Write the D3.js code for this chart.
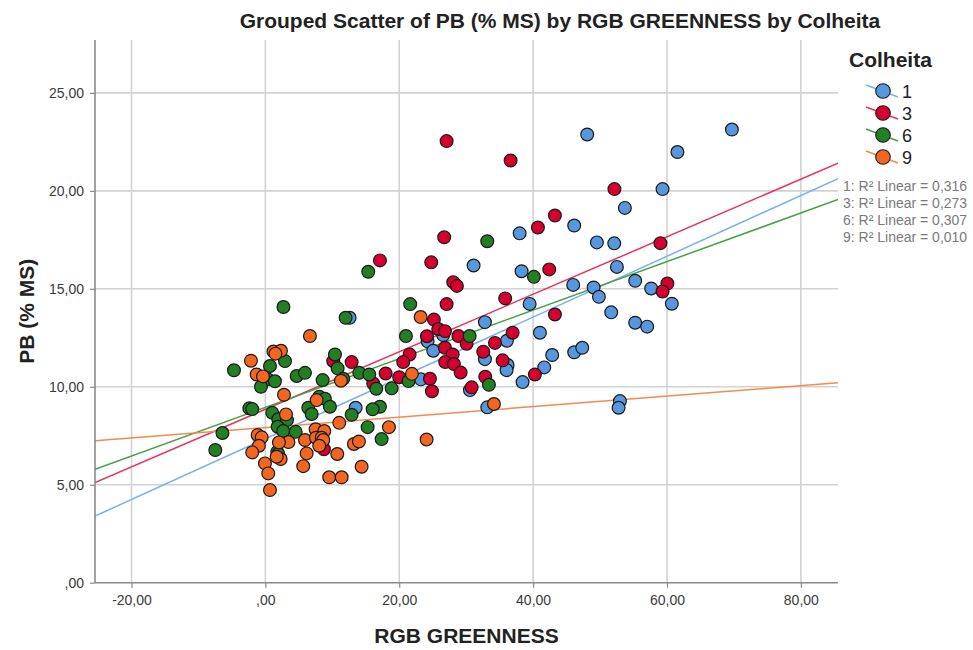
<!DOCTYPE html>
<html>
<head>
<meta charset="utf-8">
<script src="https://cdn.jsdelivr.net/npm/d3@7/dist/d3.min.js"></script>
<style>
  body { margin: 0; background: #ffffff; }
  svg { display: block; font-family: "Liberation Sans", Arial, sans-serif; }
</style>
</head>
<body>
<svg id="chart" width="973" height="650"></svg>
<script>
// Harvest groups (Colheita) and their colours
const groups = ["1", "3", "6", "9"];
const pointColors = ["#5797dd", "#d6002f", "#237f23", "#f4661f"];
const fitColors = ["#78b0ee", "#e6335b", "#45a045", "#f7894d"];

// Linear fit per group: PB = intercept + slope * greenness, with its R²
const fitIntercept = [7.35, 8.85, 8.95, 7.92];
const fitSlope = [0.1552, 0.1468, 0.1240, 0.0267];
const rSquaredLabels = ["0,316", "0,273", "0,307", "0,010"];

// Axis ticks
const xTicks = [-20, 0, 20, 40, 60, 80];
const xTickLabels = ["-20,00", ",00", "20,00", "40,00", "60,00", "80,00"];
const yTicks = [0, 5, 10, 15, 20, 25];
const yTickLabels = [",00", "5,00", "10,00", "15,00", "20,00", "25,00"];
const xDomain = [-25.45, 85.55];
const yDomain = [0, 27.7];

// Observations: [RGB GREENNESS, PB (% MS)]
const colheita1 = [
  [69.70,23.13],[48.08,22.88],[61.56,21.98],[59.34,20.09],[53.71,19.13],[46.14,18.23],
  [37.99,17.83],[49.53,17.37],[52.12,17.32],[31.11,16.19],[38.28,15.90],[52.52,16.12],
  [45.99,15.20],[49.04,15.07],[55.25,15.41],[49.83,14.59],[57.64,15.02],[60.73,14.24],
  [39.48,14.23],[32.80,13.30],[51.67,13.80],[26.57,12.64],[55.25,13.27],[57.04,13.07],
  [41.02,12.76],[36.09,12.35],[24.24,12.32],[25.08,11.84],[32.80,11.41],[36.19,11.11],
  [36.04,10.85],[46.14,11.76],[47.34,11.99],[42.85,11.62],[41.66,10.99],[38.43,10.24],
  [23.24,10.38],[30.56,9.83],[33.15,8.95],[52.97,9.27],[52.77,8.93],[12.59,13.52],
  [13.49,8.93]
];
const colheita3 = [
  [27.08,22.54],[36.64,21.55],[52.15,20.09],[43.26,18.74],[40.72,18.13],[26.72,17.63],
  [59.02,17.33],[17.12,16.45],[24.78,16.35],[42.41,15.99],[28.07,15.34],[28.62,15.15],
  [60.06,15.27],[59.34,14.86],[35.83,14.51],[27.08,14.22],[25.18,13.43],[43.26,13.69],
  [25.83,12.95],[26.83,12.84],[24.14,12.58],[28.84,12.59],[36.94,12.76],[34.30,12.24],
  [30.07,12.19],[26.83,11.99],[27.98,11.65],[21.55,11.65],[20.60,11.26],[26.87,11.26],
  [28.17,11.16],[32.55,11.79],[35.45,11.35],[40.27,10.63],[29.17,10.73],[17.97,10.68],
  [20.00,10.49],[24.59,10.41],[24.89,9.77],[32.85,10.51],[30.82,9.97],[10.14,11.31],
  [12.89,11.26],[16.12,10.17],[8.75,6.81]
];
const colheita6 = [
  [2.70,14.07],[11.99,13.52],[15.37,15.87],[33.15,17.43],[40.12,15.61],[21.64,14.22],
  [21.00,12.59],[30.52,12.59],[21.40,10.29],[33.40,10.10],[17.12,8.98],[17.37,7.33],
  [10.40,11.65],[10.80,10.94],[2.93,11.31],[-4.69,10.84],[0.69,11.06],[0.34,10.39],
  [1.43,10.28],[-0.66,10.00],[4.68,10.55],[5.92,10.71],[8.56,10.34],[11.64,10.41],
  [14.03,10.71],[15.52,10.63],[16.57,9.90],[18.87,9.92],[8.05,9.49],[8.90,9.39],
  [9.65,8.98],[-2.40,8.90],[-1.96,8.86],[6.41,8.93],[6.92,8.61],[16.03,8.85],
  [12.89,8.57],[1.03,8.67],[1.93,8.34],[3.23,8.30],[-6.41,7.64],[1.84,7.96],
  [2.67,7.74],[4.53,7.70],[15.28,7.94],[-7.48,6.77],[1.78,6.68],[1.93,6.57]
];
const colheita9 = [
  [6.66,12.59],[1.21,11.80],[2.33,11.84],[1.51,11.69],[-2.15,11.33],[-1.30,10.63],
  [-0.36,10.53],[11.29,10.31],[2.78,9.59],[7.66,9.32],[3.08,8.59],[11.04,8.16],
  [18.46,7.94],[7.51,7.83],[8.80,7.74],[3.45,7.18],[2.03,7.16],[-1.15,7.54],
  [-0.55,7.42],[-0.96,6.99],[-1.96,6.65],[5.92,7.28],[7.56,7.40],[8.41,7.40],
  [8.65,7.28],[8.05,6.99],[13.23,7.08],[13.98,7.21],[2.29,6.31],[1.69,6.43],
  [6.17,6.60],[10.74,6.57],[-0.06,6.09],[5.66,5.95],[14.38,5.92],[0.43,5.58],
  [9.54,5.38],[11.40,5.38],[0.69,4.73],[23.20,13.56],[21.90,10.66],[34.15,9.12],
  [24.09,7.31]
];
const series = [colheita1, colheita3, colheita6, colheita9];

const svg = d3.select("#chart");
const plot = { left: 95, right: 838, top: 40, bottom: 582.7 };

const x = d3.scaleLinear().domain(xDomain).range([plot.left, plot.right]);
const y = d3.scaleLinear().domain(yDomain).range([plot.bottom, plot.top]);

// Title
svg.append("text")
  .attr("x", 560).attr("y", 27.5)
  .attr("text-anchor", "middle")
  .attr("font-size", 21).attr("font-weight", "bold").attr("fill", "#222")
  .text("Grouped Scatter of PB (% MS) by RGB GREENNESS by Colheita");

// Grid lines
const grid = svg.append("g");
grid.selectAll("line.vx").data(xTicks).join("line")
  .attr("x1", d => x(d)).attr("x2", d => x(d))
  .attr("y1", plot.top).attr("y2", plot.bottom)
  .attr("stroke", "#d2d2d2").attr("stroke-width", 1.6);
grid.selectAll("line.hy").data(yTicks.filter(d => d > 0)).join("line")
  .attr("x1", plot.left).attr("x2", plot.right)
  .attr("y1", d => y(d)).attr("y2", d => y(d))
  .attr("stroke", "#d2d2d2").attr("stroke-width", 1.6);

// Axes with tick marks and labels
const xAxis = d3.axisBottom(x).tickValues(xTicks).tickSize(5).tickPadding(7)
  .tickFormat((d, i) => xTickLabels[i]);
const yAxis = d3.axisLeft(y).tickValues(yTicks).tickSize(5).tickPadding(6)
  .tickFormat((d, i) => yTickLabels[i]);

const gx = svg.append("g").attr("transform", `translate(0,${plot.bottom})`).call(xAxis);
const gy = svg.append("g").attr("transform", `translate(${plot.left},0)`).call(yAxis);
[gx, gy].forEach(g => {
  g.select(".domain").remove();
  g.selectAll(".tick line").attr("stroke", "#8a8a8a").attr("stroke-width", 1.2);
  g.selectAll(".tick text").attr("fill", "#3a3a3a").attr("font-size", 14)
    .attr("font-family", "'Liberation Sans', Arial, sans-serif");
});

// Fit lines, clipped to the plot area
svg.append("clipPath").attr("id", "plotClip").append("rect")
  .attr("x", plot.left).attr("y", plot.top)
  .attr("width", plot.right - plot.left).attr("height", plot.bottom - plot.top);
const fits = svg.append("g").attr("clip-path", "url(#plotClip)");
groups.forEach((g, i) => {
  const ends = xDomain.map(v => [v, fitIntercept[i] + fitSlope[i] * v]);
  fits.append("line")
    .attr("x1", x(ends[0][0])).attr("y1", y(ends[0][1]))
    .attr("x2", x(ends[1][0])).attr("y2", y(ends[1][1]))
    .attr("stroke", fitColors[i]).attr("stroke-width", 1.5);
});

// Points
const pts = svg.append("g");
series.forEach((data, i) => {
  pts.append("g").selectAll("circle").data(data).join("circle")
    .attr("cx", d => x(d[0])).attr("cy", d => y(d[1]))
    .attr("r", 6.4)
    .attr("fill", pointColors[i])
    .attr("stroke", "#1a1a1a").attr("stroke-width", 1.2);
});

// Axis lines
svg.append("line").attr("x1", plot.left).attr("x2", plot.left)
  .attr("y1", plot.top).attr("y2", plot.bottom)
  .attr("stroke", "#8a8a8a").attr("stroke-width", 1.6);
svg.append("line").attr("x1", plot.left).attr("x2", plot.right)
  .attr("y1", plot.bottom).attr("y2", plot.bottom)
  .attr("stroke", "#8a8a8a").attr("stroke-width", 1.6);

// Axis titles
svg.append("text")
  .attr("x", (plot.left + plot.right) / 2).attr("y", 643)
  .attr("text-anchor", "middle")
  .attr("font-size", 21).attr("font-weight", "bold").attr("fill", "#222")
  .text("RGB GREENNESS");
svg.append("text")
  .attr("transform", `translate(34,${(plot.top + plot.bottom) / 2}) rotate(-90)`)
  .attr("text-anchor", "middle")
  .attr("font-size", 21).attr("font-weight", "bold").attr("fill", "#222")
  .text("PB (% MS)");

// Legend
const legend = svg.append("g");
legend.append("text")
  .attr("x", 849).attr("y", 67)
  .attr("font-size", 21).attr("font-weight", "bold").attr("fill", "#222")
  .text("Colheita");
groups.forEach((g, i) => {
  const cy = 91 + 22 * i, cx = 883;
  legend.append("line")
    .attr("x1", cx - 17).attr("y1", cy - 6).attr("x2", cx + 15).attr("y2", cy + 6)
    .attr("stroke", fitColors[i]).attr("stroke-width", 1.5);
  legend.append("circle")
    .attr("cx", cx).attr("cy", cy).attr("r", 7.3)
    .attr("fill", pointColors[i]).attr("stroke", "#1a1a1a").attr("stroke-width", 1.1);
  legend.append("text")
    .attr("x", 902).attr("y", cy + 7)
    .attr("font-size", 18).attr("fill", "#222")
    .text(g);
});

// R² annotations
groups.forEach((g, i) => {
  const t = svg.append("text")
    .attr("x", 843).attr("y", 191 + 17 * i)
    .attr("font-size", 14).attr("fill", "#7a7a7a");
  t.append("tspan").text(`${g}: R`);
  t.append("tspan").text("²");
  t.append("tspan").text(` Linear = ${rSquaredLabels[i]}`);
});
</script>
</body>
</html>
